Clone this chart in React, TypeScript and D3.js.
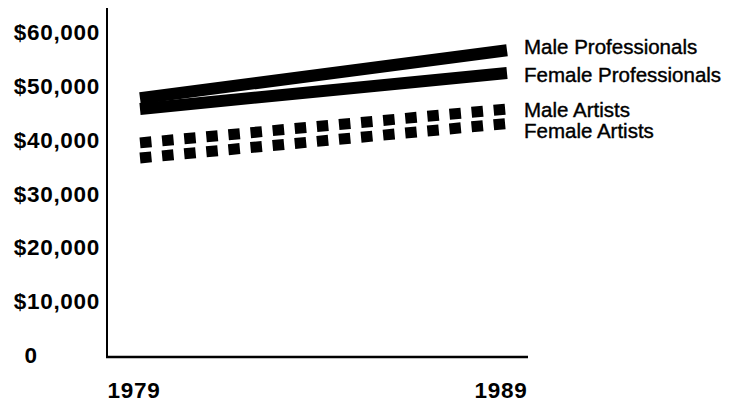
import React from "react";
import * as d3 from "d3";

const years = [1979, 1989];
const seriesNames = ["Male Professionals", "Female Professionals", "Male Artists", "Female Artists"];
const maleProfessionals = [47700, 56600];
const femaleProfessionals = [45700, 52400];
const maleArtists = [39400, 45700];
const femaleArtists = [36600, 43000];
const yTicks = [0, 10000, 20000, 30000, 40000, 50000, 60000];
const xTickLabels = ["1979", "1989"];

const W = 729;
const H = 402;

export default function App() {
  const x = d3.scaleLinear().domain([1979, 1989]).range([140, 507]);
  const y = d3.scaleLinear().domain([0, 60000]).range([355, 32]);
  const line = d3
    .line<number>()
    .x((_, i) => x(years[i]))
    .y((d) => y(d));

  const series = [
    { name: seriesNames[0], values: maleProfessionals, dashed: false, labelY: 54 },
    { name: seriesNames[1], values: femaleProfessionals, dashed: false, labelY: 82 },
    { name: seriesNames[2], values: maleArtists, dashed: true, labelY: 117 },
    { name: seriesNames[3], values: femaleArtists, dashed: true, labelY: 138 },
  ];

  const fmt = (v: number) => (v === 0 ? "0" : "$" + d3.format(",")(v));

  return (
    <svg
      width={W}
      height={H}
      style={{ position: "absolute", left: 0, top: 0, background: "#fff" }}
      fontFamily="'Liberation Sans', Arial, Helvetica, sans-serif"
    >
      <rect x={0} y={0} width={W} height={H} fill="#fff" />
      {/* axes */}
      <line x1={107} x2={107} y1={8} y2={358} stroke="#000" strokeWidth={2} />
      <line x1={106} x2={528} y1={357} y2={357} stroke="#000" strokeWidth={2.5} />
      {yTicks.map((t) => (
        <text
          key={t}
          x={t === 0 ? 31 : 100}
          y={y(t) + 8}
          textAnchor={t === 0 ? "middle" : "end"}
          fontSize={22.5}
          fontWeight="bold"
          letterSpacing={0.7}
          fill="#000"
        >
          {fmt(t)}
        </text>
      ))}
      {xTickLabels.map((l, i) => (
        <text
          key={l}
          x={x(years[i]) - 6}
          y={398}
          textAnchor="middle"
          fontSize={22.5}
          fontWeight="bold"
          letterSpacing={0.7}
          fill="#000"
        >
          {l}
        </text>
      ))}
      {series.map((s) => (
        <g key={s.name}>
          <path
            d={line(s.values) || ""}
            fill="none"
            stroke="#000"
            strokeWidth={s.dashed ? 11 : 12}
            strokeDasharray={s.dashed ? "11.5 10.7" : undefined}
            strokeLinecap="butt"
          />
          <text
            x={524}
            y={s.labelY}
            fontSize={20.5}
            fill="#000"
            stroke="#000"
            strokeWidth={0.4}
          >
            {s.name}
          </text>
        </g>
      ))}
    </svg>
  );
}
